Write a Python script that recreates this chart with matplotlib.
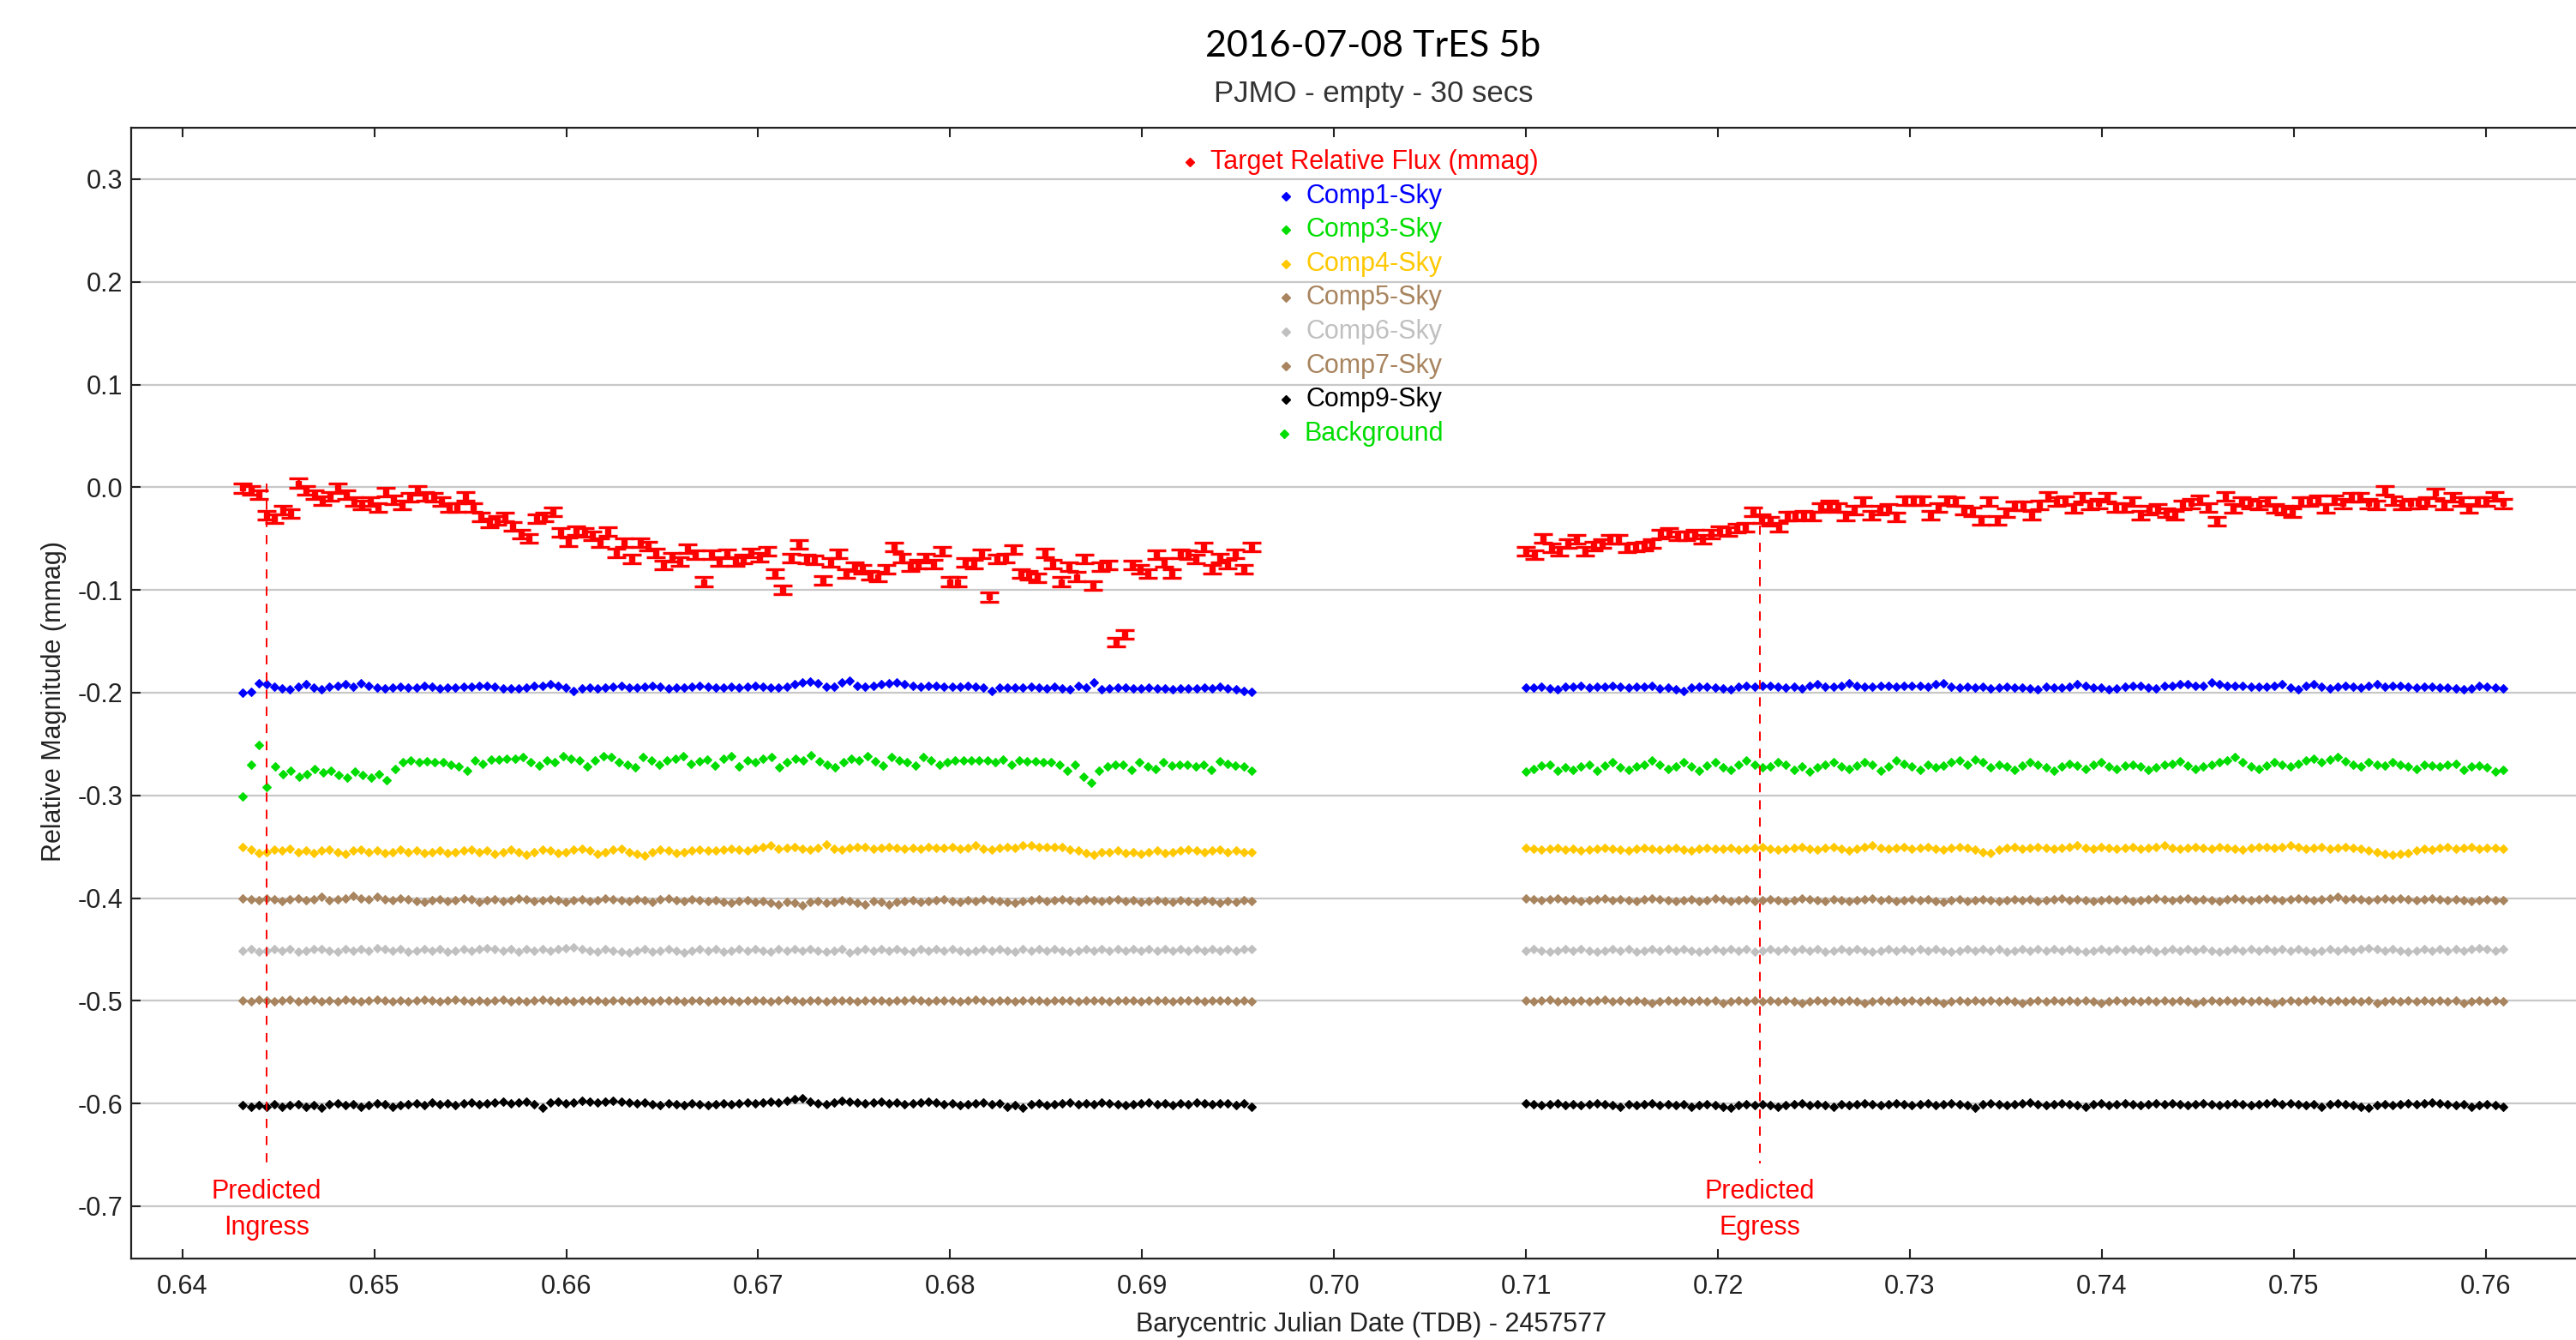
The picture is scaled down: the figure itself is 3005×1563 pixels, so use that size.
import numpy as np
import matplotlib
matplotlib.use("Agg")
import matplotlib.pyplot as plt

# ---------------- data (values in mmag/1000 units, i.e. thousandths) ----------------
T_LEFT = (0.64315, 0.69570)   # first / last exposure of the first block
T_RIGHT = (0.71000, 0.76090)  # first / last exposure of the second block
INGRESS = 0.64437
EGRESS = 0.72218
TARGET_ERR = 0.0042

target_left = [-1, -3, -7, -27, -31, -22, -26, 4, -3, -7, -13, -9, -1, -7, -14, -17, -14, -20, -5, -12,
               -17, -10, -3, -9, -10, -14, -20, -20, -9, -20, -29, -35, -32, -29, -38, -46, -50, -31, -29, -24,
               -44, -53, -42, -44, -47, -54, -43, -64, -54, -70, -54, -57, -64, -76, -68, -72, -60, -66, -92, -66,
               -72,
               -65, -72, -70, -64, -68, -62, -84, -100, -69, -56, -70, -71, -91, -73, -65, -84, -77, -80, -86, -87,
               -80, -58, -69, -77, -75, -69, -75, -62, -92, -92, -73, -75, -65, -107, -70, -69, -61, -84, -86, -88,
               -64, -75, -92, -77, -87, -70, -96, -77, -76, -151, -143, -76, -80, -84, -66, -73, -84, -65, -66, -70,
               -58, -80, -69, -75, -65, -80, -58]
target_right = [-62, -66, -50, -59, -62, -55, -51, -62, -57, -55, -51, -51, -59, -58, -57, -55, -46, -44, -47, -47,
                -46, -51, -46, -42, -43, -40, -39, -24, -31, -33, -39, -28, -28, -27, -28, -20, -17, -20, -28, -22,
                -14, -27, -22, -21, -29, -13, -13, -13, -27, -20, -13, -14, -22, -24, -32, -14, -32, -25, -18, -18,
                -27, -17, -9,
                -14, -13, -21, -10, -17, -16, -10, -20, -20, -14, -27, -22, -21, -25, -27, -17, -16, -12, -20, -33,
                -9, -21, -14, -16, -17, -14, -21, -22, -25, -14, -14, -12, -21, -12, -16, -10, -10, -16, -17, -3,
                -13, -17, -16, -16, -14, -6, -17, -10, -14, -21, -14, -14, -9, -16]

comp1_left = [-200, -199, -191, -192, -194, -196, -197, -194, -192, -195, -197, -194, -193, -192, -194, -191, -193, -195,
              -196, -195, -194, -195, -195, -193, -194, -196, -195, -195, -194, -194, -193, -193, -194, -196, -196, -196,
              -195, -193, -193, -192, -193, -195, -198, -196, -195, -196, -195, -194, -193, -195, -195, -194, -193, -194,
              -196, -195, -195, -194, -193, -194, -195, -195, -194, -195, -194, -193, -194, -195, -195, -194, -192, -190,
              -189, -191, -194, -194, -190, -188, -193, -194, -193, -192, -191, -190, -192, -193, -194, -193, -193, -194,
              -194, -194, -193, -194, -195, -198, -195, -195, -195, -195, -194, -195, -196, -194, -196, -197, -193, -195,
              -190, -197, -196, -195, -195, -196, -196, -195, -196, -196, -197, -196, -196, -196, -195, -196, -194, -196,
              -197, -198, -199]
comp1_right = [-195, -195, -194, -196, -197, -194, -194, -193, -195, -194, -194, -193, -194, -195, -194, -194, -193, -196,
               -195, -197, -198, -195, -194, -194, -195, -196, -197, -194, -193, -194, -193, -193, -194, -195, -194, -196,
               -193, -192, -194, -194, -193, -191, -193, -194, -194, -193, -193, -194, -193, -193, -193, -194, -192, -191,
               -194, -195, -194, -195, -194, -196, -195, -194, -195, -195, -196, -197, -194, -195, -195, -194, -192, -193,
               -195, -195, -197, -196, -194, -193, -193, -195, -196, -193, -193, -192, -192, -193, -193, -190, -192, -193,
               -193, -193, -194, -194, -194, -193, -192, -195, -197, -193, -192, -194, -196, -194, -193, -194, -195, -193,
               -192, -194, -193, -193, -194, -195, -194, -194, -195, -195, -196, -197, -196, -193, -194, -195, -196]

comp3_left = [-301, -270, -251, -292, -272, -279, -276, -282, -279, -274, -278, -276, -280, -283, -277, -280, -283, -279,
              -285, -274, -268, -266, -268, -267, -268, -268, -270, -272, -276, -266, -269, -265, -265, -264, -264, -263,
              -268, -271, -266, -268, -262, -264, -266, -272, -266, -262, -263, -268, -270, -273, -263, -266, -270, -266,
              -264, -262, -269, -267, -265, -271, -264, -262, -272, -266, -268, -264, -263, -273, -268, -264, -266, -261,
              -267, -270, -273, -268, -264, -266, -262, -267, -271, -263, -266, -268, -271, -263, -266, -270, -268, -266,
              -266, -266, -266, -266, -268, -265, -270, -266, -267, -267, -268, -268, -270, -276, -270, -282, -288, -276,
              -272, -270, -270, -275, -268, -272, -274, -268, -271, -270, -270, -272, -270, -275, -267, -269, -271, -272,
              -276]
comp3_right = [-277, -274, -271, -270, -276, -273, -275, -272, -270, -276, -271, -268, -273, -275, -272, -270, -266, -270,
               -274, -272, -268, -272, -276, -271, -268, -273, -275, -270, -266, -270, -273, -272, -268, -270, -275, -272,
               -277, -273, -270, -268, -272, -274, -271, -268, -270, -276, -272, -266, -269, -272, -275, -270, -273, -271,
               -268, -266, -270, -265, -268, -273, -270, -272, -275, -271, -268, -270, -273, -276, -272, -269, -271, -274,
               -270, -268, -272, -274, -271, -270, -272, -275, -273, -270, -269, -267, -271, -274, -272, -270, -268, -266,
               -263, -268, -272, -274, -271, -268, -270, -272, -269, -266, -264, -268, -265, -263, -267, -270, -272, -268,
               -270, -271, -268, -270, -272, -274, -270, -271, -272, -270, -269, -275, -272, -271, -273, -277, -275]

comp4_left = [-350, -353, -356, -355, -353, -354, -352, -355, -354, -356, -354, -353, -355, -357, -354, -353, -355, -354,
              -356, -355, -353, -355, -354, -356, -355, -354, -356, -355, -354, -353, -355, -354, -357, -355, -353, -355,
              -358, -355, -353, -354, -356, -355, -353, -352, -354, -357, -355, -353, -352, -355, -357, -359, -355, -353,
              -354, -356, -355, -354, -353, -354, -354, -353, -352, -353, -354, -352, -350, -349, -352, -351, -350, -352,
              -353, -351, -348, -352, -353, -351, -350, -350, -352, -351, -350, -351, -352, -351, -352, -350, -351, -351,
              -350, -352, -351, -349, -352, -353, -351, -350, -351, -349, -349, -350, -350, -350, -350, -353, -354, -356,
              -358, -355, -355, -354, -356, -355, -357, -355, -354, -356, -355, -354, -353, -354, -355, -354, -353, -355,
              -354, -355, -355]
comp4_right = [-351, -352, -353, -352, -351, -353, -352, -354, -353, -352, -351, -352, -353, -354, -352, -351, -352, -353,
               -352, -351, -353, -354, -352, -351, -352, -352, -351, -353, -352, -351, -350, -352, -353, -352, -351, -350,
               -352, -353, -351, -350, -352, -354, -352, -350, -349, -351, -352, -351, -350, -352, -351, -350, -352, -353,
               -351, -350, -351, -353, -355, -356, -353, -351, -350, -352, -351, -350, -351, -352, -351, -350, -349, -351,
               -352, -350, -351, -352, -351, -350, -352, -351, -350, -349, -351, -352, -351, -350, -351, -352, -350, -351,
               -352, -353, -351, -350, -350, -351, -350, -349, -350, -352, -351, -350, -352, -351, -350, -351, -352, -354,
               -355, -357, -358, -357, -356, -354, -352, -353, -351, -350, -352, -351, -350, -352, -351, -351, -352]

comp5_left = [-400, -401, -402, -400, -401, -403, -401, -400, -402, -401, -399, -402, -401, -400, -398, -400, -401, -399,
              -401, -402, -400, -401, -403, -404, -402, -401, -403, -402, -400, -401, -404, -402, -401, -403, -402, -400,
              -401, -403, -402, -401, -402, -404, -402, -401, -403, -402, -400, -401, -402, -403, -401, -402, -404, -401,
              -400, -402, -403, -401, -402, -403, -402, -404, -405, -403, -402, -404, -403, -405, -406, -404, -405, -407,
              -404, -403, -405, -404, -402, -403, -405, -406, -403, -404, -406, -404, -403, -402, -404, -403, -402, -401,
              -403, -404, -402, -403, -401, -402, -403, -404, -405, -403, -402, -401, -403, -402, -401, -402, -403, -401,
              -402, -403, -402, -401, -403, -402, -404, -403, -402, -403, -404, -402, -403, -404, -402, -403, -405, -403,
              -404, -402, -403]
comp5_right = [-400, -401, -402, -401, -400, -402, -401, -403, -402, -401, -400, -402, -401, -402, -403, -401, -400, -401,
               -402, -403, -402, -401, -403, -402, -400, -401, -403, -402, -401, -403, -402, -401, -402, -403, -402, -400,
               -401, -402, -403, -401, -402, -403, -402, -401, -400, -402, -401, -403, -402, -401, -402, -401, -403, -404,
               -402, -401, -403, -402, -401, -402, -403, -402, -401, -402, -401, -403, -402, -401, -400, -402, -401, -402,
               -403, -402, -401, -402, -401, -403, -402, -401, -400, -401, -402, -401, -400, -402, -401, -402, -403, -401,
               -400, -401, -402, -401, -400, -401, -402, -401, -400, -401, -402, -401, -400, -399, -401, -400, -401, -402,
               -401, -400, -401, -400, -401, -402, -401, -400, -401, -402, -401, -402, -403, -402, -401, -402, -402]

comp6_left = [-451, -450, -452, -451, -450, -451, -450, -452, -451, -450, -450, -451, -452, -450, -451, -450, -451, -449,
              -450, -451, -450, -452, -451, -450, -451, -450, -452, -451, -450, -451, -450, -449, -450, -451, -450, -452,
              -450, -451, -450, -451, -450, -449, -448, -450, -451, -452, -450, -451, -452, -453, -451, -450, -452, -451,
              -450, -451, -453, -451, -450, -451, -450, -452, -451, -450, -451, -450, -451, -452, -450, -451, -450, -451,
              -450, -451, -452, -451, -450, -453, -451, -450, -451, -450, -451, -450, -451, -452, -450, -451, -450, -451,
              -450, -451, -452, -451, -450, -451, -450, -451, -452, -450, -451, -450, -451, -450, -451, -452, -451, -450,
              -451, -450, -451, -450, -451, -450, -451, -450, -451, -450, -451, -450, -451, -450, -451, -450, -451, -450,
              -451, -450, -450]
comp6_right = [-451, -450, -451, -452, -451, -450, -451, -450, -451, -452, -451, -450, -451, -450, -452, -451, -450, -451,
               -450, -451, -450, -451, -452, -451, -450, -451, -450, -451, -450, -452, -451, -450, -451, -450, -451, -450,
               -451, -450, -452, -451, -450, -451, -450, -451, -452, -451, -450, -451, -450, -451, -450, -451, -450, -451,
               -452, -451, -450, -451, -450, -451, -450, -452, -451, -450, -451, -450, -451, -450, -451, -450, -451, -452,
               -451, -450, -451, -450, -451, -450, -451, -450, -452, -451, -450, -451, -450, -451, -450, -451, -452, -451,
               -450, -451, -450, -451, -450, -451, -450, -451, -450, -451, -452, -451, -450, -451, -450, -451, -450, -449,
               -450, -451, -450, -451, -452, -451, -450, -451, -450, -451, -450, -451, -450, -449, -450, -451, -450]

comp7_left = [-500, -501, -499, -500, -501, -500, -499, -501, -500, -499, -501, -500, -501, -499, -500, -501, -500, -499,
              -500, -501, -500, -501, -500, -499, -500, -501, -500, -499, -500, -501, -500, -501, -500, -499, -501, -500,
              -501, -500, -499, -500, -501, -500, -501, -500, -500, -500, -501, -500, -500, -501, -500, -500, -501, -500,
              -500, -500, -501, -500, -500, -501, -500, -500, -500, -501, -500, -500, -500, -501, -500, -499, -500, -501,
              -500, -500, -501, -500, -500, -500, -501, -500, -500, -500, -501, -500, -500, -499, -500, -501, -500, -500,
              -500, -501, -500, -499, -500, -501, -500, -500, -501, -500, -500, -500, -501, -500, -500, -500, -501, -500,
              -500, -500, -501, -500, -500, -500, -501, -500, -500, -500, -501, -500, -500, -500, -501, -500, -500, -500,
              -501, -500, -501]
comp7_right = [-500, -501, -500, -499, -501, -500, -501, -500, -501, -500, -499, -501, -500, -501, -500, -501, -502, -501,
               -500, -501, -500, -501, -500, -501, -500, -502, -501, -500, -501, -500, -501, -500, -501, -500, -501, -502,
               -501, -500, -501, -500, -501, -500, -501, -502, -501, -500, -501, -500, -501, -500, -501, -500, -501, -502,
               -501, -500, -501, -500, -501, -500, -501, -500, -501, -502, -501, -500, -501, -500, -501, -500, -501, -500,
               -501, -502, -501, -500, -501, -500, -501, -500, -501, -500, -501, -500, -501, -502, -501, -500, -501, -500,
               -501, -500, -501, -500, -501, -502, -501, -500, -501, -500, -499, -500, -501, -500, -501, -500, -501, -500,
               -502, -501, -500, -501, -500, -501, -500, -501, -500, -501, -500, -502, -501, -500, -501, -500, -501]

comp9_left = [-602, -603, -602, -603, -601, -603, -602, -601, -603, -602, -604, -601, -600, -602, -601, -603, -602, -600,
              -601, -603, -602, -601, -600, -602, -599, -601, -600, -602, -600, -599, -601, -600, -599, -598, -600, -599,
              -598, -601, -604, -599, -598, -600, -599, -597, -598, -599, -598, -597, -598, -599, -600, -599, -601, -602,
              -600, -601, -602, -600, -601, -602, -601, -600, -601, -600, -599, -600, -599, -598, -599, -597, -596, -595,
              -598, -600, -601, -599, -597, -598, -599, -600, -599, -598, -600, -599, -601, -600, -599, -598, -599, -601,
              -600, -602, -601, -600, -599, -601, -600, -603, -602, -604, -601, -600, -602, -601, -600, -599, -601, -600,
              -601, -599, -600, -601, -602, -601, -600, -599, -601, -600, -602, -600, -601, -599, -600, -601, -600, -600,
              -602, -600, -603]
comp9_right = [-600, -601, -602, -601, -600, -602, -601, -602, -601, -600, -601, -602, -603, -601, -602, -601, -600, -602,
               -601, -602, -601, -603, -602, -601, -602, -603, -604, -602, -601, -602, -601, -602, -603, -602, -601, -600,
               -602, -601, -602, -603, -601, -602, -601, -600, -601, -602, -601, -600, -601, -602, -601, -600, -602, -601,
               -600, -601, -602, -604, -601, -600, -601, -602, -601, -600, -599, -601, -602, -601, -600, -601, -602, -603,
               -601, -600, -602, -601, -600, -601, -602, -601, -600, -601, -600, -601, -602, -601, -600, -601, -602, -601,
               -600, -601, -602, -601, -600, -599, -601, -600, -601, -602, -601, -603, -601, -600, -601, -602, -603, -604,
               -602, -601, -602, -601, -600, -601, -600, -599, -600, -601, -602, -601, -603, -602, -601, -602, -603]

legend_labels = ["Target Relative Flux (mmag)", "Comp1-Sky", "Comp3-Sky", "Comp4-Sky", "Comp5-Sky",
                 "Comp6-Sky", "Comp7-Sky", "Comp9-Sky", "Background"]
legend_colors = ["#FF0000", "#0000FF", "#00DD00", "#FFC800", "#A8845F",
                 "#C0C0C0", "#A8845F", "#000000", "#00DD00"]

xticks = [0.64, 0.65, 0.66, 0.67, 0.68, 0.69, 0.70, 0.71, 0.72, 0.73, 0.74, 0.75, 0.76]
yticks = [0.3, 0.2, 0.1, 0.0, -0.1, -0.2, -0.3, -0.4, -0.5, -0.6, -0.7]

# ---------------- figure ----------------
W, H, DPI = 3005, 1563, 100
fig = plt.figure(figsize=(W / DPI, H / DPI), dpi=DPI)
fig.patch.set_facecolor("white")

SANS = ["Liberation Sans", "DejaVu Sans"]
TXT = "#222222"
FS = 22

XMIN, XMAX = 0.63733, 0.77
PX_PER_X = 22390.0
ax_l, ax_t, ax_b = 153, 149, 1468
ax_r = ax_l + (XMAX - XMIN) * PX_PER_X
ax = fig.add_axes([ax_l / W, 1 - ax_b / H, (ax_r - ax_l) / W, (ax_b - ax_t) / H])
ax.set_xlim(XMIN, XMAX)
ax.set_ylim(-0.751, 0.35)

ax.set_xticks(xticks)
ax.set_xticklabels([f"{v:.2f}" for v in xticks], fontfamily=SANS, fontsize=FS, color=TXT)
ax.set_yticks(yticks)
ax.set_yticklabels([f"{v:.1f}" for v in yticks], fontfamily=SANS, fontsize=FS, color=TXT)
ax.tick_params(axis="x", direction="in", length=8, width=1.5, top=True, pad=13, colors="#222222")
ax.tick_params(axis="y", direction="in", length=8, width=1.5, right=False, pad=7, colors="#222222")
for lab in ax.get_xticklabels() + ax.get_yticklabels():
    lab.set_color(TXT)

for side in ["left", "top", "bottom"]:
    ax.spines[side].set_linewidth(1.6)
    ax.spines[side].set_color("#222222")
ax.spines["right"].set_visible(False)

ax.yaxis.grid(True, color="#C8C8C8", linewidth=1.6)
ax.xaxis.grid(False)
ax.set_axisbelow(True)


def tgrid(block, n):
    return np.linspace(block[0], block[1], n)


def draw_comp(left, right, color):
    for block, vals in ((T_LEFT, left), (T_RIGHT, right)):
        v = np.array(vals) / 1000.0
        ax.plot(tgrid(block, len(v)), v, linestyle="none", marker="D", ms=5.0,
                color=color, mec=color, mew=0.8, zorder=3)


draw_comp(comp1_left, comp1_right, legend_colors[1])
draw_comp(comp3_left, comp3_right, legend_colors[2])
draw_comp(comp4_left, comp4_right, legend_colors[3])
draw_comp(comp5_left, comp5_right, legend_colors[4])
draw_comp(comp6_left, comp6_right, legend_colors[5])
draw_comp(comp7_left, comp7_right, legend_colors[6])
draw_comp(comp9_left, comp9_right, legend_colors[7])

for block, vals in ((T_LEFT, target_left), (T_RIGHT, target_right)):
    v = np.array(vals) / 1000.0
    ax.errorbar(tgrid(block, len(v)), v, yerr=TARGET_ERR, fmt="s", ms=5, color="#FF0000",
                mec="#FF0000", ecolor="#FF0000", elinewidth=2.0, capsize=8, capthick=2.4, zorder=4)

# predicted ingress / egress
for xline, ytop, word in ((INGRESS, 0.004, "Ingress"), (EGRESS, -0.021, "Egress")):
    ax.plot([xline, xline], [ytop, -0.658], color="#FF0000", lw=1.4, ls=(0, (5.5, 4.8)), zorder=5)
    ax.text(xline, -0.686, "Predicted", color="#FF0000", fontfamily=SANS, fontsize=FS,
            ha="center", va="center")
    ax.text(xline, -0.721, word, color="#FF0000", fontfamily=SANS, fontsize=FS,
            ha="center", va="center")

# axis labels
fig.text(1600 / W, 1 - 1545 / H, "Barycentric Julian Date (TDB) - 2457577", fontfamily=SANS,
         fontsize=FS, color=TXT, ha="center", va="center")
fig.text(63 / W, 1 - 818 / H, "Relative Magnitude (mmag)", fontfamily=SANS, fontsize=FS,
         color=TXT, ha="center", va="center", rotation=90)

# titles
fig.text(1602 / W, 1 - 54 / H, "2016-07-08 TrES 5b", fontfamily=["Lato", "DejaVu Sans"],
         fontsize=31, color="#000000", ha="center", va="center")
fig.text(1602 / W, 1 - 109 / H, "PJMO - empty - 30 secs", fontfamily=SANS, fontsize=25,
         color="#333333", ha="center", va="center")

# legend (centred rows, drawn manually)
renderer = fig.canvas.get_renderer()
LEG_CX, LEG_Y0, LEG_DY, LEG_GAP = 1591, 189, 39.6, 24
for i, (lab, col) in enumerate(zip(legend_labels, legend_colors)):
    ypx = LEG_Y0 + i * LEG_DY
    t = fig.text(0, 1 - ypx / H, lab, fontfamily=SANS, fontsize=FS, color=col,
                 ha="left", va="center")
    tw = t.get_window_extent(renderer).width
    mx = LEG_CX - (LEG_GAP + tw) / 2.0
    t.set_x((mx + LEG_GAP) / W)
    fig.lines.append(matplotlib.lines.Line2D([mx / W], [1 - ypx / H], transform=fig.transFigure,
                                             marker="D", ms=5.0, color=col, mec=col, linestyle="none"))

fig.savefig("out.png", dpi=DPI, facecolor="white")
